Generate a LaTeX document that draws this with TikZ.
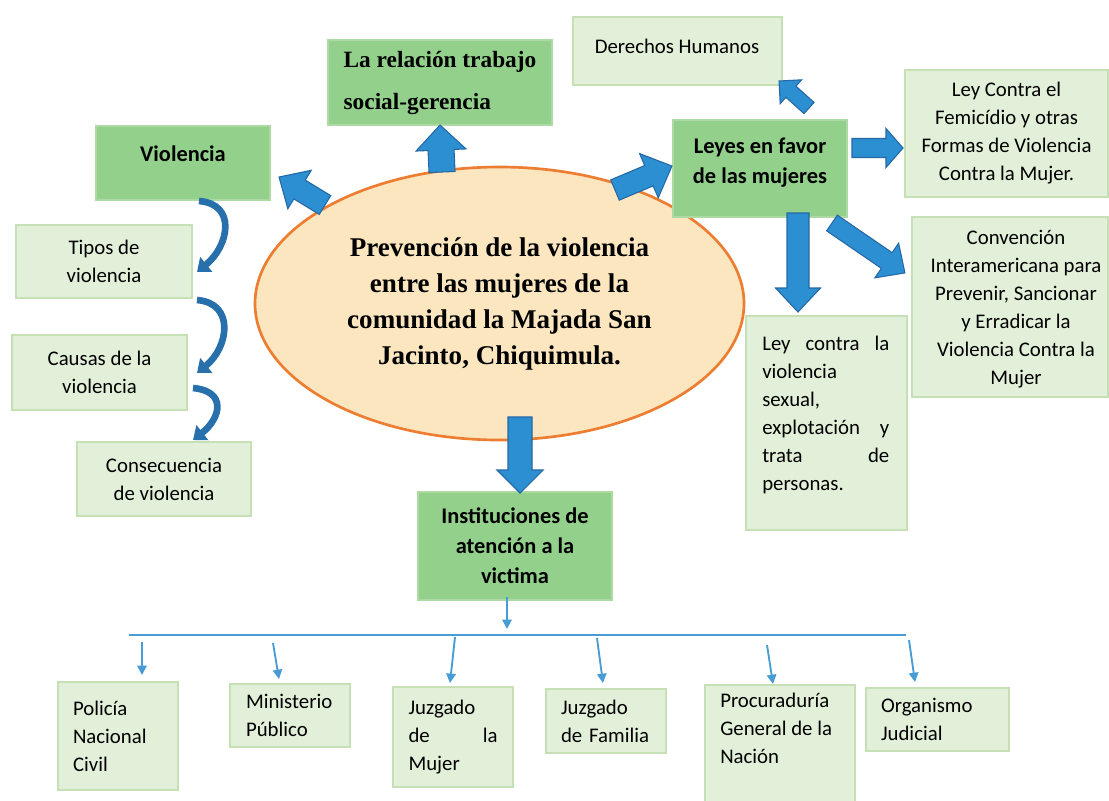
\documentclass[tikz,border=0pt]{standalone}
\usepackage{fontspec}
\setmainfont{Carlito}
\newfontfamily\timesf{Liberation Serif}
\usetikzlibrary{arrows.meta,shapes.geometric}
\definecolor{dgreen}{RGB}{146,208,140}
\definecolor{dgreenb}{RGB}{172,218,162}
\definecolor{lgreen}{RGB}{226,240,217}
\definecolor{lgreenb}{RGB}{197,224,180}
\definecolor{efill}{RGB}{252,230,192}
\definecolor{eline}{RGB}{237,125,49}
\definecolor{ablue}{RGB}{44,143,210}
\definecolor{ablueb}{RGB}{36,104,166}
\definecolor{cblue}{RGB}{40,112,172}
\definecolor{tblue}{RGB}{72,156,214}
\newcommand\fL{\fontsize{15.6}{21}\selectfont}
\newcommand\fB{\fontsize{16.8}{22.5}\selectfont\bfseries}
\newcommand\fE{\timesf\bfseries\fontsize{20.3}{27}\selectfont}
\newcommand\fR{\timesf\bfseries\fontsize{17.5}{31.5}\selectfont}
\tikzset{
 lbox/.style={draw=lgreenb, fill=lgreen, line width=1.5pt, inner sep=0pt, align=center, font=\fL},
 dbox/.style={draw=dgreenb, fill=dgreen, line width=1.2pt, inner sep=0pt, align=center, font=\fB},
 sz/.style 2 args={minimum width=#1*0.75pt, minimum height=#2*0.75pt},
 blockarrow/.style={draw=ablueb, fill=ablue, line width=0.8pt, line join=miter},
 curvarrow/.style={draw=cblue, line width=5pt, -{Triangle[width=14pt,length=9pt]}},
 thinarrow/.style={draw=tblue, line width=1.4pt, -{Triangle[width=7pt,length=7pt]}},
 thinline/.style={draw=tblue, line width=1.4pt},
 txt/.style={inner sep=0pt, align=center}
}
\newcommand\blkarrow[5]{%
  \path (#1); \pgfgetlastxy{\bax}{\bay}%
  \path (#2); \pgfgetlastxy{\bbx}{\bby}%
  \pgfmathsetmacro\bang{atan2(\bby-\bay,\bbx-\bax)}%
  \pgfmathsetmacro\blen{veclen(\bbx-\bax,\bby-\bay)}%
  \pgfmathsetmacro\bneck{\blen-#5*0.75}%
  \begin{scope}[shift={(#1)},rotate=\bang,x=1pt,y=1pt]
   \draw[blockarrow] (0,-#3*0.375) -- (\bneck,-#3*0.375) -- (\bneck,-#4*0.375) -- (\blen,0) -- (\bneck,#4*0.375) -- (\bneck,#3*0.375) -- (0,#3*0.375) -- cycle;
  \end{scope}}
\begin{document}
\begin{tikzpicture}[x=0.75pt,y=-0.75pt]
\useasboundingbox (0,0) rectangle (1109,800);
\clip (0,0) rectangle (1109,800);
\fill[white] (0,0) rectangle (1109,800);

% central ellipse
\node[ellipse, draw=eline, fill=efill, line width=2pt, inner sep=0pt, sz={489}{273}, align=center, font=\fE]
  (centre) at (499.5,303.5) {Prevención de la violencia\\entre las mujeres de la\\comunidad la Majada San\\Jacinto, Chiquimula.};

% upper boxes
\node[dbox, sz={224}{85}, align=left, font=\fR] (rel) at (440,82.5) {La relación trabajo\\social-gerencia};
\node[dbox, sz={174}{74}] (viol) at (183,163) {};
\node[txt, font=\fB] (violt) at (183,154) {Violencia};
\node[lbox, sz={176}{73}] (tipos) at (104,261.5) {Tipos de\\violencia};
\node[lbox, sz={175}{75}] (causas) at (99.5,372.5) {Causas de la\\violencia};
\node[lbox, sz={174}{74}] (cons) at (164,479) {Consecuencia\\de violencia};

\node[lbox, sz={209}{68}] (der) at (677.5,51) {};
\node[txt, font=\fL] (dert) at (677,46) {Derechos Humanos};
\node[dbox, sz={174}{97}] (leyes) at (760,168.5) {};
\node[txt, font=\fB] (leyest) at (760,163) {Leyes en favor\\de las mujeres};
\node[lbox, sz={203}{127}] (leyc) at (1006.5,133.5) {Ley Contra el\\Femicídio y otras\\Formas de Violencia\\Contra la Mujer.};
\node[lbox, sz={196}{180}] (conv) at (1010,307) {};
\node[txt, font=\fL] (convt) at (1016,309) {Convención\\Interamericana para\\Prevenir, Sancionar\\y Erradicar la\\Violencia Contra la\\Mujer};
\node[lbox, sz={161}{214}] (leys) at (826.5,423) {};
\node[inner sep=0pt, align=left, text width=127*0.75pt, font=\fL, anchor=north west] (leyst) at (762,336)
  {Ley\hfill contra\hfill la\\violencia\\sexual,\\explotación\hfill y\\trata\hfill de\\personas.};

\node[dbox, sz={194}{108}] (inst) at (515,546) {Instituciones de\\atención a la\\victima};

% bottom boxes
\node[lbox, sz={120}{108}, align=left, text width=90*0.75pt] (pol) at (118,736) {Policía\\Nacional\\Civil};
\node[lbox, sz={120}{63}, align=left, text width=88*0.75pt] (min) at (290,715.5) {Ministerio\\Público};
\node[lbox, sz={120}{100}, align=left, text width=89*0.75pt] (jm) at (453,737) {Juzgado\\de\hfill la\\Mujer};
\node[lbox, sz={120}{64}, align=left, text width=90*0.75pt] (fam) at (606,721) {Juzgado\\de Familia};
\node[lbox, sz={150}{127}] (pro) at (780,748.5) {};
\node[inner sep=0pt, align=left, font=\fL, anchor=north west] (prot) at (720,693) {Procuraduría\\General de la\\Nación};
\node[lbox, sz={143}{63}, align=left, text width=113*0.75pt] (org) at (937.5,719.5) {Organismo\\Judicial};

% block arrows
\coordinate (a1s) at (325,205); \coordinate (a1e) at (279,177);
\coordinate (a2s) at (442,172); \coordinate (a2e) at (440,125);
\coordinate (a3s) at (615,190); \coordinate (a3e) at (672,166);
\coordinate (a4s) at (809,108); \coordinate (a4e) at (779,81);
\coordinate (a5s) at (852,148); \coordinate (a5e) at (903,148);
\coordinate (a6s) at (832,223); \coordinate (a6e) at (905,273);
\coordinate (a7s) at (798,213); \coordinate (a7e) at (798,312);
\coordinate (a8s) at (520,417); \coordinate (a8e) at (520,493);
\blkarrow{a1s}{a1e}{22}{45}{24}
\blkarrow{a2s}{a2e}{26}{50}{25}
\blkarrow{a3s}{a3e}{22}{48}{25}
\blkarrow{a4s}{a4e}{15}{32}{16}
\blkarrow{a5s}{a5e}{19}{39}{17}
\blkarrow{a6s}{a6e}{19}{42}{22}
\blkarrow{a7s}{a7e}{22}{45}{24}
\blkarrow{a8s}{a8e}{24}{46}{23}

% curved arrows
\coordinate (c1s) at (199,201); \coordinate (c1e) at (197,272);
\coordinate (c2s) at (197,300); \coordinate (c2e) at (197,373);
\coordinate (c3s) at (193,388); \coordinate (c3e) at (193,440);
\draw[curvarrow] (c1s) .. controls +(38,3) and +(32,-26) .. (c1e);
\draw[curvarrow] (c2s) .. controls +(38,3) and +(32,-26) .. (c2e);
\draw[curvarrow] (c3s) .. controls +(34,3) and +(28,-22) .. (c3e);

% distribution line and thin arrows
\coordinate (hl1) at (129,635); \coordinate (hl2) at (906,635);
\draw[thinline] (hl1) -- (hl2);
\coordinate (t0s) at (507,597); \coordinate (t0e) at (507,629);
\draw[thinarrow] (t0s) -- (t0e);
\coordinate (t1s) at (142,642); \coordinate (t1e) at (142,675);
\coordinate (t2s) at (273,643); \coordinate (t2e) at (279,679);
\coordinate (t3s) at (455,637); \coordinate (t3e) at (450,683);
\coordinate (t4s) at (597,638); \coordinate (t4e) at (603,683);
\coordinate (t5s) at (767,645); \coordinate (t5e) at (773,684);
\coordinate (t6s) at (909,640); \coordinate (t6e) at (915,682);
\draw[thinarrow] (t1s) -- (t1e);
\draw[thinarrow] (t2s) -- (t2e);
\draw[thinarrow] (t3s) -- (t3e);
\draw[thinarrow] (t4s) -- (t4e);
\draw[thinarrow] (t5s) -- (t5e);
\draw[thinarrow] (t6s) -- (t6e);
\end{tikzpicture}
\end{document}
